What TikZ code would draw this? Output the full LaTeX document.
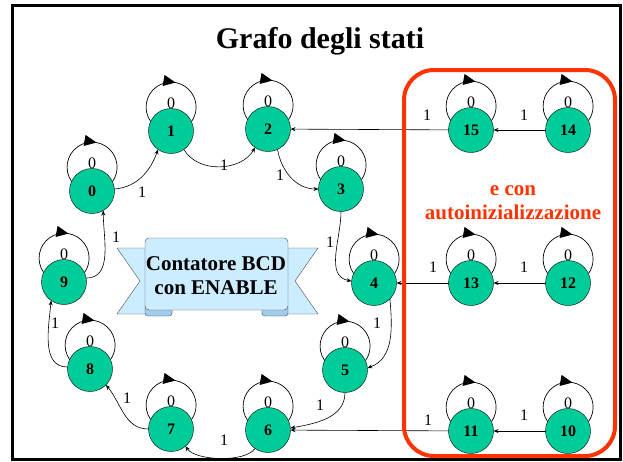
\documentclass[tikz,border=0pt]{standalone}
\usepackage{fontspec}
\setmainfont{Liberation Serif}
\usetikzlibrary{arrows.meta,decorations.markings}
\definecolor{verdestato}{RGB}{0,204,153}
\definecolor{rossobox}{RGB}{255,51,0}
\definecolor{azzurro}{RGB}{204,236,255}
\definecolor{azzurroscuro}{RGB}{160,205,235}
\tikzset{
  stato/.style = {circle, draw=black, fill=verdestato, minimum size=45pt,
    inner sep=0pt, outer sep=0pt, font=\fontsize{16}{16}\selectfont\bfseries},% nodo di stato
  etich/.style = {font=\fontsize{16}{16}\selectfont, inner sep=1pt},% etichetta ingresso
  anello/.style = {draw=black, line width=0.7pt, postaction={decorate},
    decoration={markings, mark=at position 0.54 with
      {\arrow{Triangle[length=12pt,width=11pt]}}}},% autoanello
  freccia/.style = {draw=black, line width=0.6pt,
    -{Stealth[length=5pt,width=4pt]}},
  titolo/.style = {font=\fontsize{30}{30}\selectfont\bfseries},
  scritta/.style = {font=\fontsize{21}{24}\selectfont\bfseries, align=center}
}
\newcommand{\autoanello}[1]{% anello con ingresso 0
  \draw[anello] (#1.155) arc[start angle=215, end angle=-35, radius=25pt];
  \node[etich] (#1z) at ([yshift=28pt]#1.center) {0};
}

\begin{document}
\begin{tikzpicture}[x=1pt,y=-1pt]
\useasboundingbox (0,0) rectangle (623,461);
\draw[line width=3pt] (12,5) rectangle (620,459);

\node[titolo] (tit) at (320,41) {Grafo degli stati};

% nastro centrale
\draw[fill=azzurro, draw=black!70] (117,248) -- (172,248) -- (172,314)
  -- (117,314) -- (140,281) -- cycle;
\draw[fill=azzurro, draw=black!70] (318,248) -- (262,248) -- (262,314)
  -- (318,314) -- (295,281) -- cycle;
\draw[fill=azzurroscuro, draw=black!70, rounded corners=3pt] (145,305) rectangle (172,316);
\draw[fill=azzurroscuro, draw=black!70, rounded corners=3pt] (262,305) rectangle (288,316);
\draw[fill=azzurro, draw=black!70, rounded corners=4pt] (145,238) rectangle (288,310);
\node[scritta] (bcd) at (216,276) {Contatore BCD\\con ENABLE};

% stati
\node[stato] (s0) at (92,191) {0};
\node[stato] (s1) at (171,131) {1};
\node[stato] (s2) at (268,129) {2};
\node[stato] (s3) at (341,189) {3};
\node[stato] (s4) at (374,283) {4};
\node[stato] (s5) at (345,370) {5};
\node[stato] (s6) at (268,430) {6};
\node[stato] (s7) at (171,429) {7};
\node[stato] (s8) at (90,369) {8};
\node[stato] (s9) at (64,282) {9};
\node[stato] (s15) at (471,130) {15};
\node[stato] (s14) at (568,130) {14};
\node[stato] (s13) at (471,283) {13};
\node[stato] (s12) at (568,283) {12};
\node[stato] (s11) at (471,431) {11};
\node[stato] (s10) at (568,431) {10};

\foreach \s in {s0,s1,s2,s3,s4,s5,s6,s7,s8,s9,s10,s11,s12,s13,s14,s15}
  {\autoanello{\s}}

% transizioni con ingresso 1
\draw[freccia] (s0.5) to[out=5,in=250] (s1.235);
\draw[freccia] (s1.305) to[out=-60,in=240] (s2.235);
\draw[freccia] (s2.295) to[out=-80,in=180] (s3.180);
\draw[freccia] (s3.270) to[out=-90,in=170] (s4.175);
\draw[freccia] (s4.315) to[out=-85,in=20] (s5.5);
\draw[freccia] (s5.270) to[out=-90,in=10] (s6.5);
\draw[freccia] (s6.235) to[out=235,in=-55,looseness=0.65] (s7.310);
\draw[freccia] (s7.180) to[out=180,in=-50] (s8.315);
\draw[freccia] (s8.175) to[out=180,in=-95] (s9.235);
\draw[freccia] (s9.10) to[out=0,in=-90] (s0.300);
\draw[freccia] (s15) -- (s2);
\draw[freccia] (s14) -- (s15);
\draw[freccia] (s13) -- (s4);
\draw[freccia] (s12) -- (s13);
\draw[freccia] (s11) -- (s6);
\draw[freccia] (s10) -- (s11);

\node[etich] (l01) at (142,192) {1};
\node[etich] (l12) at (224,165) {1};
\node[etich] (l23) at (280,175) {1};
\node[etich] (l34) at (330,242) {1};
\node[etich] (l45) at (377,323) {1};
\node[etich] (l56) at (320,405) {1};
\node[etich] (l67) at (224,440) {1};
\node[etich] (l78) at (127,398) {1};
\node[etich] (l89) at (55,323) {1};
\node[etich] (l90) at (116,237) {1};
\node[etich] (l152) at (427,115) {1};
\node[etich] (l1415) at (524,115) {1};
\node[etich] (l134) at (433,267) {1};
\node[etich] (l1213) at (524,267) {1};
\node[etich] (l116) at (428,420) {1};
\node[etich] (l1011) at (524,415) {1};

% riquadro autoinizializzazione
\draw[rossobox, line width=4pt, rounded corners=30pt] (404,70) rectangle (615,456);
\node[scritta, text=rossobox] (auto) at (513,203) {e con\\autoinizializzazione};
\end{tikzpicture}
\end{document}
